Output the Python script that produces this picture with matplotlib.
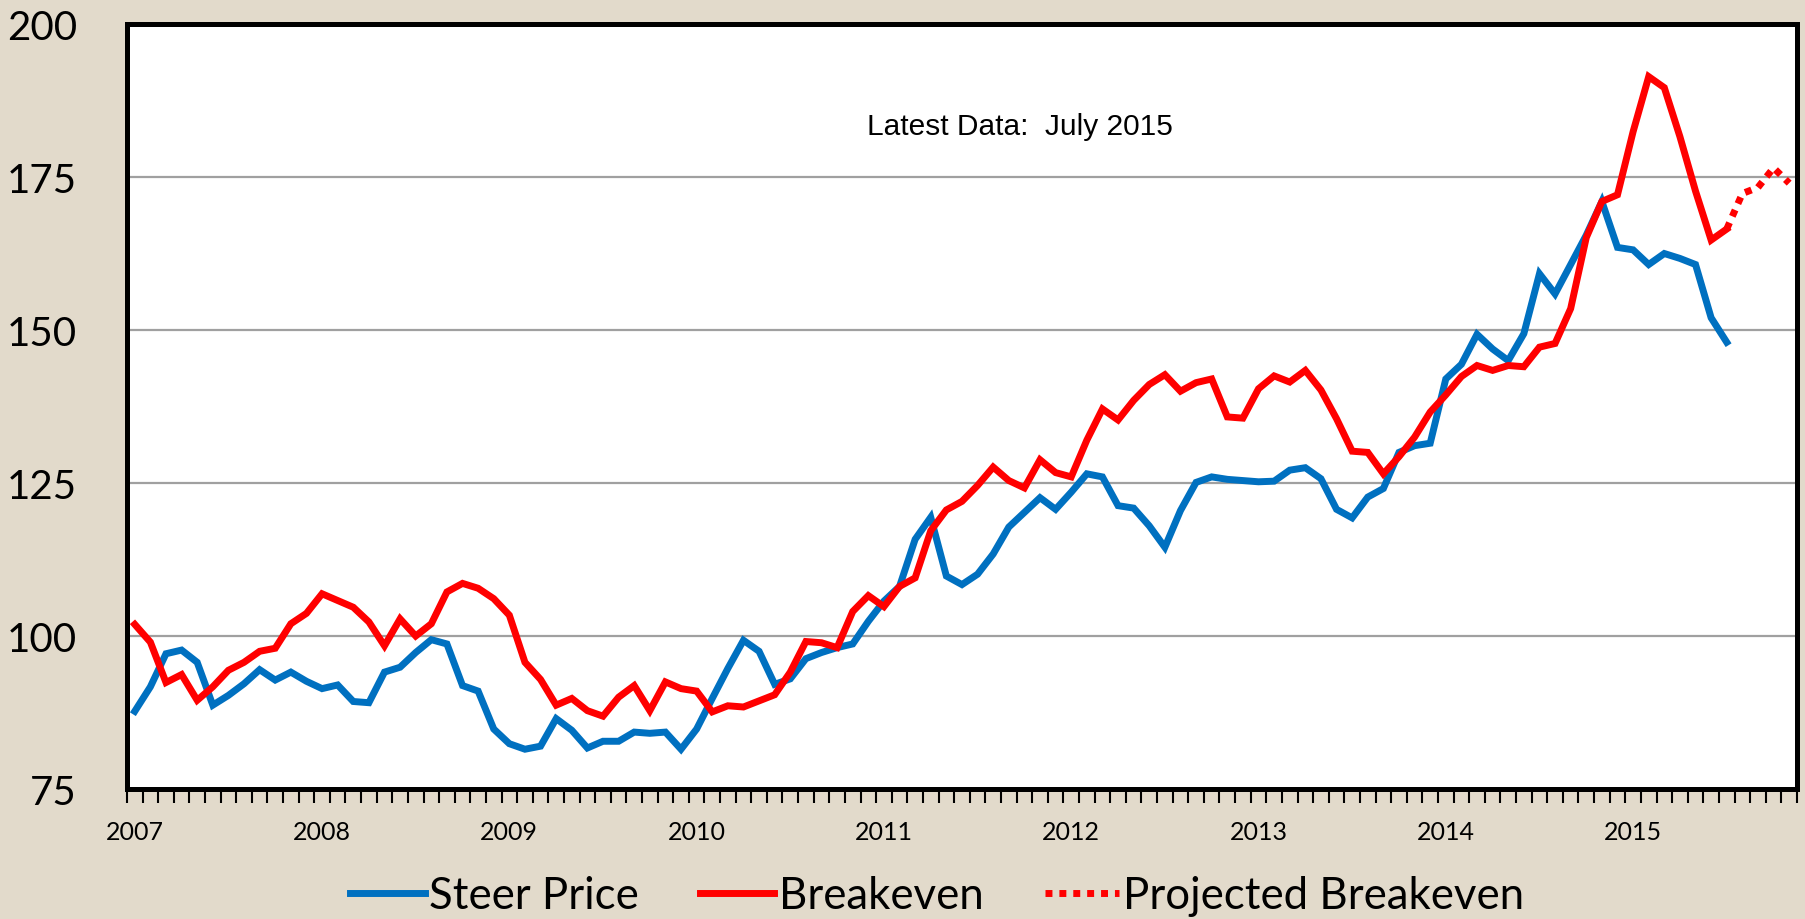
import numpy as np
import matplotlib.pyplot as plt

# monthly series, Jan 2007 .. Jul 2015
steer = [87.7, 91.7, 97.1, 97.7, 95.7, 88.7, 90.3, 92.2, 94.5, 92.8, 94.1, 92.6,
         91.4, 92.0, 89.3, 89.1, 94.1, 94.9, 97.3, 99.4, 98.7, 91.9, 91.0, 84.8,
         82.4, 81.5, 82.0, 86.5, 84.6, 81.7, 82.8, 82.8, 84.3, 84.1, 84.3, 81.5,
         84.8, 89.8, 94.7, 99.3, 97.5, 92.1, 93.0, 96.3, 97.3, 98.1, 98.7, 102.4,
         105.7, 108.1, 115.8, 119.4, 109.8, 108.4, 110.1, 113.4, 117.8, 120.2, 122.6, 120.7,
         123.5, 126.5, 126.0, 121.3, 120.9, 118.0, 114.5, 120.5, 125.1, 126.0, 125.6, 125.4,
         125.2, 125.3, 127.1, 127.5, 125.7, 120.7, 119.3, 122.7, 124.1, 130.0, 131.1, 131.5,
         142.0, 144.4, 149.3, 146.9, 145.0, 149.4, 159.2, 155.9, 160.7, 165.5, 171.0, 163.5,
         163.1, 160.7, 162.5, 161.7, 160.7, 152.0, 148.0]

breakeven = [101.9, 99.0, 92.4, 93.7, 89.5, 91.7, 94.4, 95.7, 97.5, 98.0, 102.0, 103.7,
             106.9, 105.8, 104.7, 102.3, 98.4, 102.8, 100.0, 102.0, 107.2, 108.6, 107.8, 106.1,
             103.4, 95.7, 92.9, 88.7, 89.8, 87.8, 86.9, 90.0, 91.9, 87.8, 92.5, 91.4,
             91.0, 87.6, 88.6, 88.4, 89.4, 90.4, 94.1, 99.1, 98.9, 98.1, 104.0, 106.6,
             104.8, 108.1, 109.5, 117.2, 120.6, 122.0, 124.6, 127.6, 125.4, 124.2, 128.8, 126.7,
             126.0, 132.0, 137.1, 135.3, 138.5, 141.1, 142.7, 140.0, 141.4, 142.0, 135.8, 135.6,
             140.4, 142.5, 141.5, 143.4, 140.2, 135.5, 130.2, 130.0, 126.5, 129.3, 132.5, 136.6,
             139.4, 142.4, 144.2, 143.4, 144.2, 144.0, 147.2, 147.8, 153.5, 165.1, 171.0, 172.1,
             182.4, 191.4, 189.6, 181.6, 172.7, 164.7, 166.5]

# Jul 2015 .. Nov 2015
projected = [166.5, 172.3, 173.3, 176.5, 174.0]

years = [str(y) for y in range(2007, 2016)]
n_months = 107  # Jan 2007 .. Nov 2015 on the category axis

x_data = np.arange(len(steer))
x_proj = np.arange(len(steer) - 1, len(steer) - 1 + len(projected))

bg = "#E2DACB"
blue = "#0070C0"
red = "#FF0000"

fig = plt.figure(figsize=(18.06, 9.2), dpi=100, facecolor=bg)
ax = fig.add_axes([0.0703, 0.1413, 0.9247, 0.8315])
ax.set_facecolor("white")

ax.plot(x_data, steer, color=blue, lw=5.0, solid_joinstyle="miter", label="Steer Price", zorder=3)
ax.plot(x_data, breakeven, color=red, lw=5.0, solid_joinstyle="miter", label="Breakeven", zorder=4)
ax.plot(x_proj, projected, color=red, lw=5.0, linestyle=(0, (1, 1)), dash_capstyle="butt",
        label="Projected Breakeven", zorder=4)

ax.set_xlim(-0.5, n_months - 0.5)
ax.set_ylim(75, 200)
ax.set_yticks([75, 100, 125, 150, 175, 200])
ax.grid(axis="y", color="#A0A0A0", lw=1.6, zorder=1)
ax.set_axisbelow(True)

# month boundary ticks, year labels centred on January
ax.set_xticks(np.arange(-0.5, n_months, 1))
ax.set_xticklabels([])
ax.tick_params(axis="x", which="major", direction="out", length=10, width=1.5, color="black")
ax.set_xticks(np.arange(0, 12 * len(years), 12), minor=True)
ax.set_xticklabels(years, minor=True, fontsize=18, family="Lato")
ax.tick_params(axis="x", which="minor", length=0, pad=22)

ax.tick_params(axis="y", length=0, pad=36, labelsize=29)
for lab in ax.get_yticklabels():
    lab.set_family("Lato")

for s in ax.spines.values():
    s.set_linewidth(3.6)
    s.set_color("black")

ax.text(0.535, 0.867, "Latest Data:  July 2015", transform=ax.transAxes, ha="center", va="center",
        fontsize=21.5, family="Liberation Sans")

fig.legend(loc="center", bbox_to_anchor=(0.519, 0.025), ncol=3, frameon=False,
           prop={"family": "Lato", "size": 31.5}, handlelength=1.7, handletextpad=0.1,
           columnspacing=1.4)

fig.savefig("out.png", dpi=100, facecolor=bg)
